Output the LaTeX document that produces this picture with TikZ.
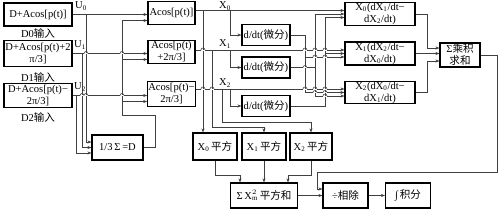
\documentclass[tikz,border=0pt]{standalone}
\usepackage{fontspec}
\setmainfont{Liberation Serif}
\newfontfamily\cjk{Noto Sans CJK SC}
\usetikzlibrary{arrows.meta, calc}

% small bump where one wire passes over another
\newcommand{\wirehop}[2]{%
  \fill[white] (#1-2.4,#2-0.5) rectangle (#1+2.4,#2+0.5);
  \draw[wire] (#1-2,#2) arc[start angle=180, end angle=0, radius=0.06cm];}

\begin{document}
\begin{tikzpicture}[
    x=0.03cm, y=-0.03cm,
    font=\fontsize{9}{10.2}\selectfont,
    blk/.style 2 args={rectangle, draw=black, line width=0.9pt, align=center, inner sep=0.5pt, minimum width=#1*0.3mm, minimum height=#2*0.3mm},
    wire/.style={draw=black!75, line width=0.5pt},
    arr/.style={wire, -{Stealth[length=3.5pt, width=2.6pt]}},
    lbl/.style={inner sep=0pt}
]
    \fill[white] (0,0) rectangle (500,213);
    \useasboundingbox (0,0) rectangle (500,213);

    % Entradas
    \node[blk={68}{23}] (in0) at (38,14.5) {D+Acos[p(t)]};
    \node[blk={68}{26}] (in1) at (38,53.5) {D+Acos[p(t)+2\\π/3]};
    \node[blk={68}{24}] (in2) at (38,95.5) {D+Acos[p(t)−\\2π/3]};
    \node[lbl] (l0) at (38,33) {D0{\cjk 输入}};
    \node[lbl] (l1) at (38,77) {D1{\cjk 输入}};
    \node[lbl] (l2) at (38,117) {D2{\cjk 输入}};
    \node[lbl] (u0) at (81,6) {U\textsubscript{0}};
    \node[lbl] (u1) at (80,45) {U\textsubscript{1}};
    \node[lbl] (u2) at (80,87) {U\textsubscript{2}};
    \node[blk={51}{25}] (avg) at (117.5,147.5) {1/3\,Σ\,=D};

    % Bloques Acos
    \node[blk={47}{23}] (ac0) at (171.5,13) {Acos[p(t)]};
    \node[blk={47}{23}] (ac1) at (171.5,52) {Acos[p(t)\\+2π/3]};
    \node[blk={47}{25}] (ac2) at (171.5,94) {Acos[p(t)−\\2π/3]};
    \node[lbl] (x0l) at (225,6) {X\textsubscript{0}};
    \node[lbl] (x1l) at (225,44) {X\textsubscript{1}};
    \node[lbl] (x2l) at (225,83) {X\textsubscript{2}};

    % Derivadas y productos
    \node[blk={48}{21}] (dd0) at (266,35) {d/dt({\cjk 微分})};
    \node[blk={48}{21}] (dd1) at (266,67.5) {d/dt({\cjk 微分})};
    \node[blk={48}{21}] (dd2) at (266,106) {d/dt({\cjk 微分})};
    \node[blk={70}{23}] (pr0) at (380,14) {X\textsubscript{0}(dX\textsubscript{1}/dt−\\dX\textsubscript{2}/dt)};
    \node[blk={70}{23}] (pr1) at (380,53.5) {X\textsubscript{1}(dX\textsubscript{2}/dt−\\dX\textsubscript{0}/dt)};
    \node[blk={70}{22}] (pr2) at (380,92.5) {X\textsubscript{2}(dX\textsubscript{0}/dt−\\dX\textsubscript{1}/dt)};
    \node[blk={40}{24}] (psum) at (460,55) {Σ{\cjk 乘积}\\{\cjk 求和}};

    % Cuadrados y salida
    \node[blk={44}{27}] (sq0) at (215,146.5) {X\textsubscript{0}\,{\cjk 平方}};
    \node[blk={44}{27}] (sq1) at (264,146.5) {X\textsubscript{1}\,{\cjk 平方}};
    \node[blk={42}{27}] (sq2) at (311,146.5) {X\textsubscript{2}\,{\cjk 平方}};
    \node[blk={67}{25}] (sum) at (264,195.5) {Σ\,$\mathrm{X}_\mathrm{m}^2$\,{\cjk 平方和}};
    \node[blk={45}{25}] (div) at (345.5,195.5) {÷{\cjk 相除}};
    \node[blk={45}{25}] (int) at (408,195.5) {∫\,{\cjk 积分}};

    % Puntos de entrada y buses
    \foreach \i in {0,1,2} {
        \coordinate (p\i a) at ($(pr\i.west)+(0,-3.5)$);
        \coordinate (p\i b) at (pr\i.west);
        \coordinate (p\i c) at ($(pr\i.west)+(0,3.5)$);
        \coordinate (ac\i d) at ($(ac\i.west)+(0,7.5)$);
    }
    \coordinate (uv0) at (86,0);
    \coordinate (uv1) at (82,0);
    \coordinate (uv2) at (76,0);
    \coordinate (dbus) at (122,0);
    \coordinate (dturn) at ($(avg.east)+(12,-32.5)$);
    \coordinate (v0) at (203,0);
    \coordinate (v1) at (212,0);
    \coordinate (v2) at (222,0);
    \coordinate (vd) at (230,0);
    \coordinate (b0) at (305,0);
    \coordinate (b1) at (315,0);
    \coordinate (b2) at (325,0);
    \coordinate (fb) at (317,172);

    % Conexiones
    \foreach \i in {0,1,2} {
        \draw[arr] (in\i.east) -- (ac\i.west |- in\i.east);
        \draw[arr] (ac\i.east |- p\i a) -- (p\i a);
        \draw[arr] (vd |- p\i a) |- (dd\i.west);
    }
    \draw[arr] (uv0 |- in0.east) |- ($(avg.west)+(0,-5.5)$);
    \draw[arr] (uv1 |- in1.east) |- (avg.west);
    \draw[arr] (uv2 |- in2.east) |- ($(avg.west)+(0,5.5)$);
    \draw[arr] (avg.east) -| (dturn) -- (dbus |- dturn) |- (ac0d);
    \draw[arr] (dbus |- ac1d) -- (ac1d);
    \draw[arr] (dbus |- ac2d) -- (ac2d);

    \draw[arr] (v0 |- p0a) -- (v0 |- sq0.north);
    \draw[arr] (v1 |- p1a) |- ($(sq1.north)+(0,-5)$) -- (sq1.north);
    \draw[arr] (v2 |- p2a) |- ($(sq2.north)+(0,-10)$) -- (sq2.north);

    \draw[arr] (dd0.east) -| (b0 |- p1c) -- (p1c);
    \draw[arr] (b0 |- p1c) |- (p2b);
    \draw[arr] (dd1.east) -| (b1 |- p0b) -- (p0b);
    \draw[arr] (b1 |- dd1.east) |- (p2c);
    \draw[arr] (dd2.east) -| (b2 |- p0c) -- (p0c);
    \draw[arr] (b2 |- p1b) -- (p1b);

    \draw[arr] (pr0.east) -- ++(12,0) |- ($(psum.west)+(0,-7)$);
    \draw[arr] (pr1.east) -- (psum.west |- pr1.east);
    \draw[arr] (pr2.east) -- ++(12,0) |- ($(psum.west)+(0,6)$);

    \draw[arr] (sq0.south) |- ($(sum.north)+(-24,-7)$) -- ($(sum.north)+(-24,0)$);
    \draw[arr] (sq1.south) -- (sum.north);
    \draw[arr] (sq2.south) |- ($(sum.north)+(24,-7)$) -- ($(sum.north)+(24,0)$);
    \draw[arr] (sum.east) -- (div.west |- sum.east);
    \draw[arr] (psum.east) -- ++(17,0) |- (fb) |- ($(div.west)+(0,-6.5)$);
    \draw[arr] (div.east) -- (int.west);

    % Cruces
    \foreach \x/\y in {86/53.5, 122/53.5, 82/95.5, 86/95.5, 122/95.5,
        203/50, 305/50, 315/50, 325/50,
        203/89, 212/89, 305/89, 315/89, 325/89,
        305/67.5, 315/57, 325/57, 315/92.5, 325/92.5, 325/96}
        {\wirehop{\x}{\y}}
\end{tikzpicture}
\end{document}
